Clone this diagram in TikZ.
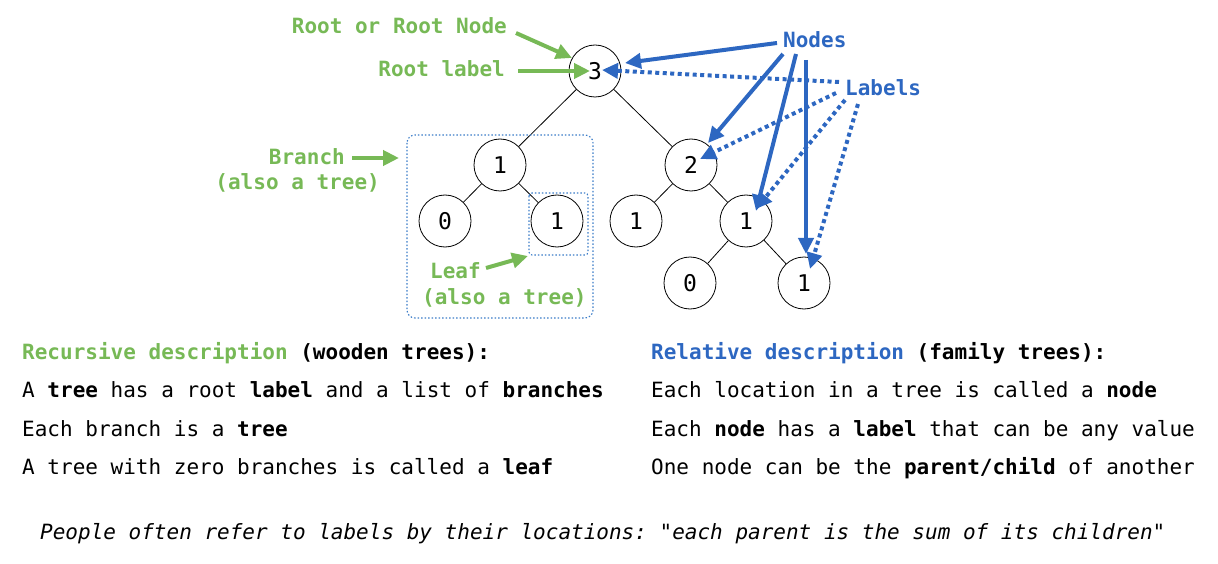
\documentclass[tikz,border=0pt]{standalone}
\usepackage{fontspec}
\setmonofont{DejaVu Sans Mono}
\renewcommand{\familydefault}{\ttdefault}
\usetikzlibrary{arrows.meta}
\definecolor{tgreen}{RGB}{119,185,86}
\definecolor{tblue}{RGB}{45,103,193}
\definecolor{boxblue}{RGB}{60,125,200}
\begin{document}
\begin{tikzpicture}[x=1pt,y=-1pt,
  txt/.style={inner sep=0pt, font=\ttfamily\fontsize{21}{25}\selectfont},
  gtxt/.style={txt, text=tgreen, font=\ttfamily\fontsize{21}{25}\selectfont\bfseries},
  btxt/.style={txt, text=tblue, font=\ttfamily\fontsize{21}{25}\selectfont\bfseries},
  tnode/.style={circle, draw, line width=0.8pt, minimum size=52pt, inner sep=0pt, font=\ttfamily\fontsize{23}{27}\selectfont},
  tedge/.style={line width=0.8pt},
  tipA/.style={-{Triangle[length=16pt,width=15pt]}},
  garrow/.style={tgreen, line width=4pt, tipA},
  narrow/.style={tblue, line width=4pt, tipA},
  larrow/.style={tblue, line width=4pt, dash pattern=on 4pt off 3.5pt, tipA},
  dbox/.style={boxblue, line width=1.1pt, dash pattern=on 1.5pt off 2pt}]
\useasboundingbox (0,0) rectangle (1218,564);

% tree nodes
\node[tnode] (r)  at (595,71)  {3};
\node[tnode] (a)  at (500,165) {1};
\node[tnode] (b)  at (691,165) {2};
\node[tnode] (a0) at (445,221) {0};
\node[tnode] (a1) at (557,221) {1};
\node[tnode] (b1) at (636,221) {1};
\node[tnode] (b2) at (746,221) {1};
\node[tnode] (c0) at (690,283) {0};
\node[tnode] (c1) at (804,283) {1};

\draw[tedge] (r) -- (a);
\draw[tedge] (r) -- (b);
\draw[tedge] (a) -- (a0);
\draw[tedge] (a) -- (a1);
\draw[tedge] (b) -- (b1);
\draw[tedge] (b) -- (b2);
\draw[tedge] (b2) -- (c0);
\draw[tedge] (b2) -- (c1);

% dotted boxes
\draw[dbox, rounded corners=8pt] (407,135) rectangle (593,318);
\draw[dbox, rounded corners=3pt] (529,193) rectangle (588,255);

% green labels
\node[gtxt, anchor=base east] (rootor) at (507,34) {Root or Root Node};
\node[gtxt, anchor=base east] (rootlab) at (505,77) {Root label};
\node[gtxt, anchor=base east] (branch) at (345,165) {Branch};
\node[gtxt, anchor=base east] (branch2) at (380,190) {(also a tree)};
\node[gtxt, anchor=base west] (leaf) at (430,278) {Leaf};
\node[gtxt, anchor=base west] (leaf2) at (422,304) {(also a tree)};

% blue labels
\node[btxt, anchor=base west] (nodes) at (783,48) {Nodes};
\node[btxt, anchor=base west] (labels) at (845,96) {Labels};

% arrow end coordinates
\coordinate (g1s) at (516,33);  \coordinate (g1e) at (572,58);
\coordinate (g2s) at (518,71);  \coordinate (g2e) at (590,71);
\coordinate (g3s) at (352,158); \coordinate (g3e) at (399,158);
\coordinate (g4s) at (486,268); \coordinate (g4e) at (528,256);

\coordinate (n1s) at (777,43);  \coordinate (n1e) at (625,63);
\coordinate (n2s) at (783,54);  \coordinate (n2e) at (708,143);
\coordinate (n3s) at (796,54);  \coordinate (n3e) at (756,211);
\coordinate (n4s) at (806,60);  \coordinate (n4e) at (806,254);

\coordinate (l1s) at (839,82);  \coordinate (l1e) at (602,70);
\coordinate (l2s) at (836,93);  \coordinate (l2e) at (700,159);
\coordinate (l3s) at (845,100); \coordinate (l3e) at (756,209);
\coordinate (l4s) at (858,104); \coordinate (l4e) at (810,269);

\draw[garrow] (g1s) -- (g1e);
\draw[garrow] (g2s) -- (g2e);
\draw[garrow] (g3s) -- (g3e);
\draw[garrow] (g4s) -- (g4e);

\draw[larrow] (l1s) -- (l1e);
\draw[larrow] (l2s) -- (l2e);
\draw[larrow] (l3s) -- (l3e);
\draw[larrow] (l4s) -- (l4e);

\draw[narrow] (n1s) -- (n1e);
\draw[narrow] (n2s) -- (n2e);
\draw[narrow] (n3s) -- (n3e);
\draw[narrow] (n4s) -- (n4e);

% bottom text, left column
\node[txt, anchor=base west] (L1) at (22,359) {\textcolor{tgreen}{\bfseries Recursive description} \textbf{(wooden trees):}};
\node[txt, anchor=base west] (L2) at (22,397.5) {A \textbf{tree} has a root \textbf{label} and a list of \textbf{branches}};
\node[txt, anchor=base west] (L3) at (22,436) {Each branch is a \textbf{tree}};
\node[txt, anchor=base west] (L4) at (22,474) {A tree with zero branches is called a \textbf{leaf}};

% right column
\node[txt, anchor=base west] (R1) at (651,359) {\textcolor{tblue}{\bfseries Relative description} \textbf{(family trees):}};
\node[txt, anchor=base west] (R2) at (651,397.5) {Each location in a tree is called a \textbf{node}};
\node[txt, anchor=base west] (R3) at (651,436) {Each \textbf{node} has a \textbf{label} that can be any value};
\node[txt, anchor=base west] (R4) at (651,474) {One node can be the \textbf{parent/child} of another};

% bottom line
\node[txt, anchor=base west, font=\ttfamily\fontsize{21}{25}\selectfont\itshape] (foot) at (40,539) {People often refer to labels by their locations: "each parent is the sum of its children"};
\end{tikzpicture}
\end{document}
